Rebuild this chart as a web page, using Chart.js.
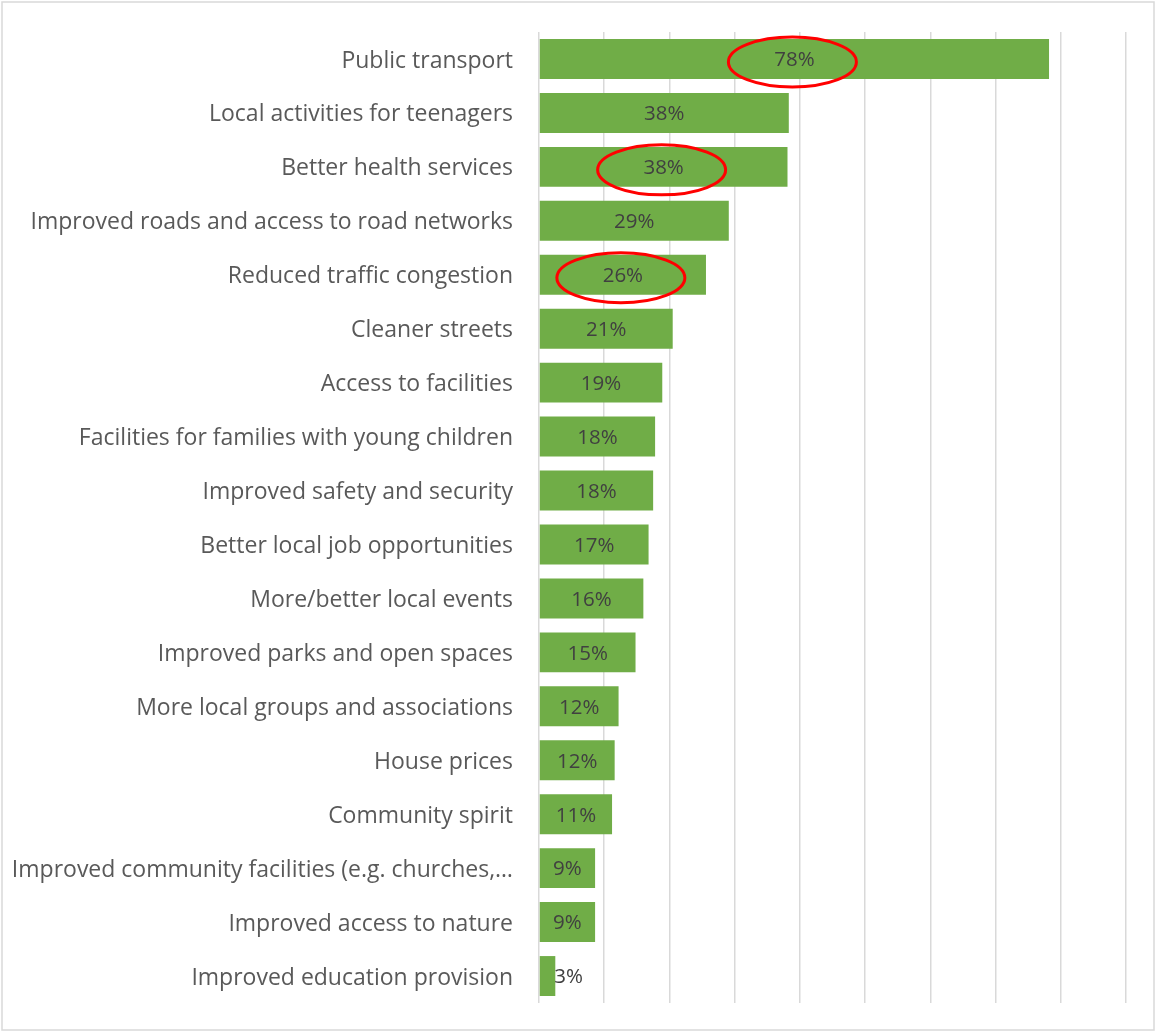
<!DOCTYPE html>
<html>
<head>
<meta charset="utf-8">
<script src="https://cdn.jsdelivr.net/npm/chart.js@4.4.0/dist/chart.umd.min.js"></script>
<style>
  html, body { margin: 0; padding: 0; background: #fff; }
  #wrap { width: 1157px; height: 1032px; }
</style>
</head>
<body>
<div id="wrap"><canvas id="chart" width="1157" height="1032"></canvas></div>
<script>
const categories = [
  'Public transport',
  'Local activities for teenagers',
  'Better health services',
  'Improved roads and access to road networks',
  'Reduced traffic congestion',
  'Cleaner streets',
  'Access to facilities',
  'Facilities for families with young children',
  'Improved safety and security',
  'Better local job opportunities',
  'More/better local events',
  'Improved parks and open spaces',
  'More local groups and associations',
  'House prices',
  'Community spirit',
  'Improved community facilities (e.g. churches,\u2026',
  'Improved access to nature',
  'Improved education provision'
];
const values = [78.2, 38.3, 38.1, 29.1, 25.6, 20.5, 18.9, 17.8, 17.5, 16.8, 16.0, 14.8, 12.2, 11.6, 11.2, 8.6, 8.6, 2.5];
const circled = ['Public transport', 'Better health services', 'Reduced traffic congestion'];
const xMax = 90;
const xStep = 10;

const frame = {
  id: 'frame',
  beforeDraw(chart) {
    const ctx = chart.ctx;
    ctx.save();
    ctx.fillStyle = '#ffffff';
    ctx.fillRect(0, 0, chart.width, chart.height);
    ctx.strokeStyle = '#d9d9d9';
    ctx.lineWidth = 1.5;
    ctx.strokeRect(2, 2, chart.width - 5, chart.height - 4);
    ctx.restore();
  }
};

const barLabels = {
  id: 'barLabels',
  afterDatasetsDraw(chart) {
    const ctx = chart.ctx;
    const meta = chart.getDatasetMeta(0);
    ctx.save();
    ctx.font = '20.5px "Open Sans"';
    ctx.fillStyle = '#404040';
    ctx.textBaseline = 'middle';
    meta.data.forEach((bar, i) => {
      const text = Math.round(values[i]) + '%';
      const w = ctx.measureText(text).width;
      if (w + 6 > bar.x - bar.base) {
        ctx.textAlign = 'left';
        ctx.fillText(text, bar.x - 1, bar.y + 1.5);
      } else {
        ctx.textAlign = 'center';
        ctx.fillText(text, (bar.x + bar.base) / 2, bar.y + 1.5);
      }
    });
    ctx.restore();
  }
};

const ellipses = {
  id: 'ellipses',
  afterDraw(chart) {
    const ctx = chart.ctx;
    const meta = chart.getDatasetMeta(0);
    ctx.save();
    ctx.strokeStyle = '#ff0000';
    ctx.lineWidth = 3;
    circled.forEach(name => {
      const bar = meta.data[categories.indexOf(name)];
      ctx.beginPath();
      ctx.ellipse((bar.x + bar.base) / 2 - 2, bar.y + 3, 64, 25, 0, 0, Math.PI * 2);
      ctx.stroke();
    });
    ctx.restore();
  }
};

new Chart(document.getElementById('chart'), {
  type: 'bar',
  data: {
    labels: categories,
    datasets: [{
      data: values,
      backgroundColor: '#70ad47',
      borderWidth: 0,
      categoryPercentage: 1,
      barPercentage: 0.74
    }]
  },
  options: {
    indexAxis: 'y',
    responsive: false,
    animation: false,
    layout: { padding: { left: 0, right: 31, top: 32, bottom: 29 } },
    plugins: {
      legend: { display: false },
      tooltip: { enabled: false }
    },
    scales: {
      x: {
        min: 0,
        max: xMax,
        ticks: { display: false, stepSize: xStep },
        grid: { color: '#d9d9d9', lineWidth: 1.5, drawTicks: false },
        border: { display: false },
        afterFit: s => { s.height = 0; }
      },
      y: {
        ticks: {
          color: '#595959',
          font: { family: 'Open Sans', size: 23 },
          padding: 26,
          labelOffset: 2,
          autoSkip: false
        },
        grid: { display: false, drawTicks: false },
        border: { display: false },
        afterFit: s => { s.width = 539; s.paddingTop = 0; s.paddingBottom = 0; }
      }
    }
  },
  plugins: [frame, barLabels, ellipses]
});
</script>
</body>
</html>
